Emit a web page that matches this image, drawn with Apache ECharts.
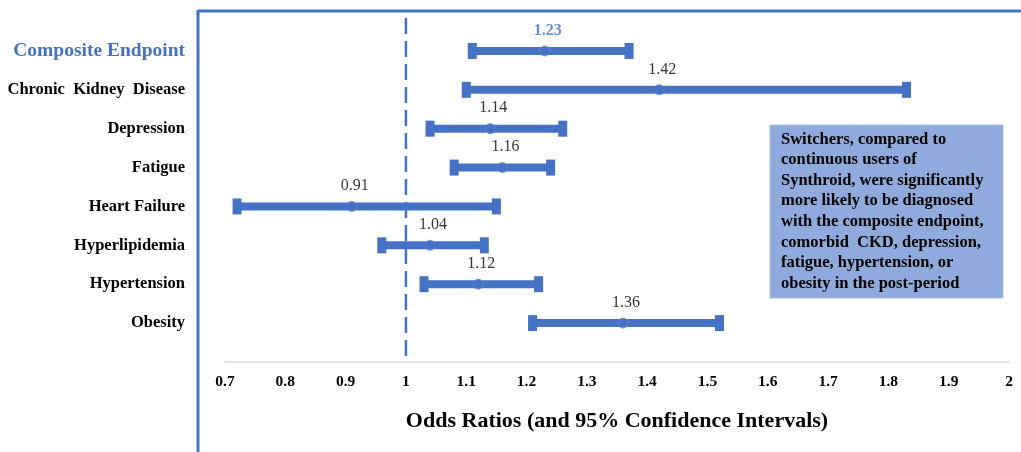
<!DOCTYPE html>
<html>
<head>
<meta charset="utf-8">
<script src="https://cdn.jsdelivr.net/npm/echarts@6/dist/echarts.min.js"></script>
<style>html,body{margin:0;padding:0;background:#fff;}#c{width:1021px;height:452px;}</style>
</head>
<body>
<div id="c"></div>
<script>
const categories = ['Composite Endpoint','Chronic  Kidney  Disease','Depression','Fatigue','Heart Failure','Hyperlipidemia','Hypertension','Obesity'];
const oddsRatio = [1.23, 1.42, 1.14, 1.16, 0.91, 1.04, 1.12, 1.36];
const lowerCI   = [1.11, 1.10, 1.04, 1.08, 0.72, 0.96, 1.03, 1.21];
const upperCI   = [1.37, 1.83, 1.26, 1.24, 1.15, 1.13, 1.22, 1.52];
const xTicks = { min: 0.7, max: 2, interval: 0.1 };
const axisTitle = 'Odds Ratios (and 95% Confidence Intervals)';
const noteLines = ['Switchers, compared to','continuous users of','Synthroid, were significantly','more likely to be diagnosed','with the composite endpoint,','comorbid  CKD, depression,','fatigue, hypertension, or','obesity in the post-period'];
const referenceOR = 1;

const BLUE = '#4472C4';
const SERIF = '"Liberation Serif", "DejaVu Serif", serif';

const chart = echarts.init(document.getElementById('c'));

const ciData = categories.map((c, i) => [i, lowerCI[i], upperCI[i]]);
const pointData = categories.map((c, i) => ({
  value: [oddsRatio[i], i],
  label: i === 0 ? { color: BLUE, fontWeight: 'bold' } : {}
}));

chart.setOption({
  animation: false,
  grid: { left: 225, right: 12, top: 31.5, height: 311 },
  xAxis: {
    type: 'value', min: xTicks.min, max: xTicks.max, interval: xTicks.interval,
    offset: 19.5,
    axisLine: { show: true, lineStyle: { color: '#d9d9d9', width: 1.5 } },
    axisTick: { show: false },
    splitLine: { show: false },
    axisLabel: { margin: 12, fontFamily: SERIF, fontWeight: 'bold', fontSize: 15.5, color: '#000',
      formatter: v => String(Math.round(v * 10) / 10) },
    name: axisTitle, nameLocation: 'middle', nameGap: 48,
    nameTextStyle: { fontFamily: SERIF, fontWeight: 'bold', fontSize: 22, color: '#000' }
  },
  yAxis: {
    type: 'category', data: categories, inverse: true,
    axisLine: { show: false }, axisTick: { show: false }, splitLine: { show: false },
    axisLabel: {
      margin: 40,
      formatter: (v, i) => i === 0 ? '{a|' + v + '}' : '{b|' + v + '}',
      rich: {
        a: { fontFamily: SERIF, fontWeight: 'bold', fontSize: 19.5, color: BLUE },
        b: { fontFamily: SERIF, fontWeight: 'bold', fontSize: 16.5, color: '#000' }
      }
    }
  },
  graphic: [
    { type: 'line', shape: { x1: 198, y1: 11, x2: 1021, y2: 11 }, style: { stroke: BLUE, lineWidth: 3 } },
    { type: 'line', shape: { x1: 198, y1: 10, x2: 198, y2: 452 }, style: { stroke: BLUE, lineWidth: 3 } },
    { type: 'rect', shape: { x: 770, y: 125, width: 233, height: 173 },
      style: { fill: '#8FAADC', stroke: '#A9BFE6', lineWidth: 1 }, z: 10 },
    { type: 'text', left: 781, top: 129, z: 11,
      style: { text: noteLines.join('\n'), fontFamily: SERIF, fontWeight: 'bold', fontSize: 16.5,
        lineHeight: 20.6, fill: '#000' } }
  ],
  series: [
    {
      type: 'custom', z: 1, silent: true,
      data: [[referenceOR, 0]],
      encode: { x: 0, y: 1 },
      renderItem: (params, api) => {
        const x = api.coord([api.value(0), 0])[0];
        const cs = params.coordSys;
        return { type: 'line',
          shape: { x1: x, y1: cs.y - 13.5, x2: x, y2: cs.y + cs.height + 16 },
          style: { stroke: BLUE, lineWidth: 2.5, lineDash: [16, 7] } };
      }
    },
    {
      type: 'custom', z: 2, silent: true,
      data: ciData,
      encode: { x: [1, 2], y: 0 },
      renderItem: (params, api) => {
        const cat = api.value(0);
        const p1 = api.coord([api.value(1), cat]);
        const p2 = api.coord([api.value(2), cat]);
        const st = { fill: BLUE };
        return { type: 'group', children: [
          { type: 'rect', shape: { x: p1[0], y: p1[1] - 4, width: p2[0] - p1[0], height: 8 }, style: st },
          { type: 'rect', shape: { x: p1[0] - 4.5, y: p1[1] - 8, width: 9, height: 16 }, style: st },
          { type: 'rect', shape: { x: p2[0] - 4.5, y: p2[1] - 8, width: 9, height: 16 }, style: st }
        ] };
      }
    },
    {
      type: 'scatter', z: 3, data: pointData, symbol: 'circle', symbolSize: 10,
      itemStyle: { color: BLUE, borderColor: '#5a86d0', borderWidth: 1 },
      label: { show: true, position: 'top', distance: 7, offset: [3, 0],
        formatter: p => p.value[0].toFixed(2),
        fontFamily: SERIF, fontSize: 16, color: '#000' }
    }
  ]
});
</script>
</body>
</html>
